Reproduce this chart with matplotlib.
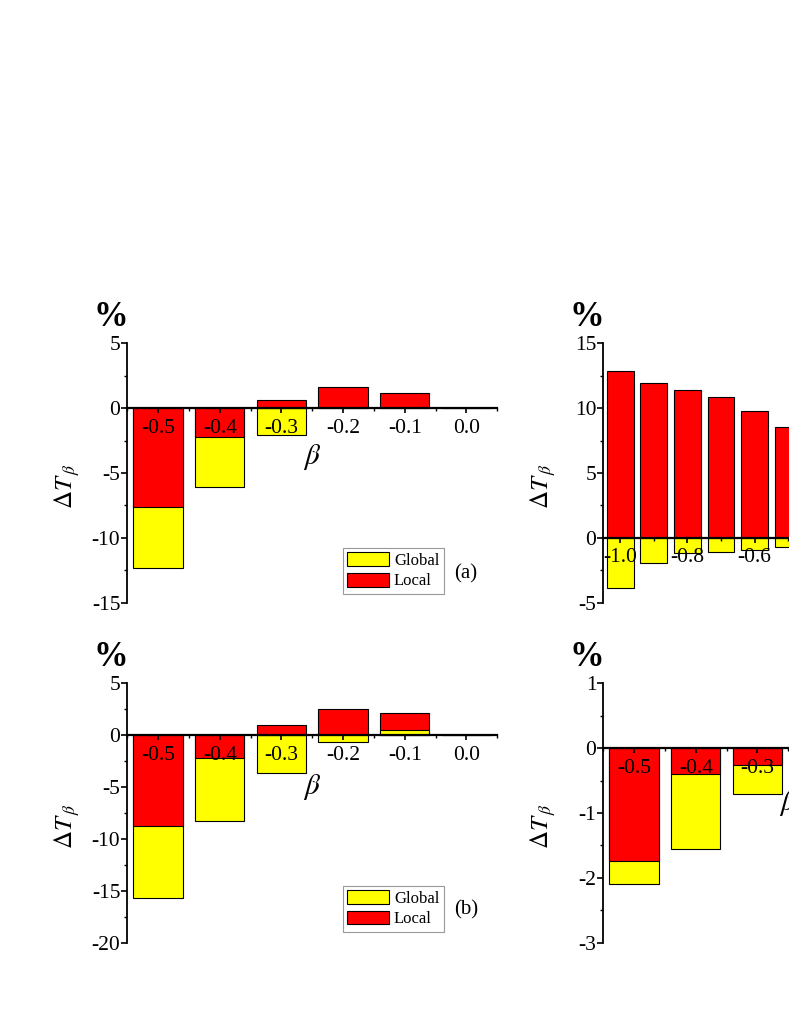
import numpy as np
import matplotlib
matplotlib.use("Agg")
from matplotlib import pyplot as plt
from matplotlib.ticker import MultipleLocator, FuncFormatter

plt.rcParams['font.family'] = ['Liberation Serif', 'DejaVu Serif']
plt.rcParams['mathtext.fontset'] = 'stix'
plt.rcParams['axes.unicode_minus'] = False

YELLOW = '#ffff00'
RED = '#ff0000'

# panel (a)
beta_a = [-0.5, -0.4, -0.3, -0.2, -0.1, 0.0]
global_a = [-12.3, -6.1, -2.05, 0.0, 0.0, 0.0]
local_a = [-7.65, -2.25, 0.64, 1.62, 1.15, 0.0]

# panel (b)
beta_b = [-0.5, -0.4, -0.3, -0.2, -0.1, 0.0]
global_b = [-15.7, -8.3, -3.6, -0.68, 0.52, 0.0]
local_b = [-8.77, -2.2, 0.97, 2.48, 2.16, 0.0]

# top right panel (only the visible part)
beta_c = [-1.0, -0.9, -0.8, -0.7, -0.6, -0.5]
global_c = [-3.85, -1.95, -1.18, -1.08, -0.95, -0.69]
local_c = [12.9, 11.94, 11.43, 10.87, 9.79, 8.58]

# bottom right panel (only the visible part)
beta_d = [-0.5, -0.4, -0.3]
global_d = [-2.10, -1.55, -0.71]
local_d = [-1.74, -0.40, -0.26]


def tick_fmt(v, pos):
    v = round(v, 1)
    if v == 0:
        return '0.0'
    return '%.1f' % v


def panel(ax, beta, glob, loc, ylim, ymaj, xlim, xmaj, beta_pos, legend=None, tag=None):
    gb = ax.bar(beta, glob, width=0.08, color=YELLOW, edgecolor='black', linewidth=0.8, label='Global')
    lb = ax.bar(beta, loc, width=0.08, color=RED, edgecolor='black', linewidth=0.8, label='Local')
    # the bar with the smaller magnitude is drawn on top
    for pg, pl, g, l in zip(gb.patches, lb.patches, glob, loc):
        if abs(g) < abs(l):
            pg.set_zorder(1.5)
            pl.set_zorder(1.0)
        else:
            pg.set_zorder(1.0)
            pl.set_zorder(1.5)

    ax.set_xlim(*xlim)
    ax.set_ylim(*ylim)
    for s in ['top', 'right']:
        ax.spines[s].set_visible(False)
    ax.spines['bottom'].set_position(('data', 0))
    ax.spines['bottom'].set_linewidth(1.6)
    ax.spines['left'].set_linewidth(1.3)

    ax.xaxis.set_major_locator(MultipleLocator(xmaj))
    ax.xaxis.set_minor_locator(MultipleLocator(xmaj / 2))
    ax.xaxis.set_major_formatter(FuncFormatter(tick_fmt))
    ax.yaxis.set_major_locator(MultipleLocator(ymaj))
    ax.yaxis.set_minor_locator(MultipleLocator(ymaj / 2))
    ax.tick_params(axis='x', which='major', direction='out', length=3.5, width=1.2, pad=4, labelsize=15.5)
    ax.tick_params(axis='x', which='minor', direction='out', length=2.5, width=1.0)
    ax.tick_params(axis='y', which='major', direction='out', length=4, width=1.2, pad=1, labelsize=15.5)
    ax.tick_params(axis='y', which='minor', direction='out', length=2.5, width=1.0)

    ax.text(beta_pos[0], beta_pos[1], r'$\beta$', fontsize=21, ha='center', va='center')
    ax.text(-0.163, 0.45, r'$\mathit{\Delta T}_{\,\beta}$', fontsize=18, rotation=90,
            ha='center', va='center', transform=ax.transAxes)
    ax.text(-0.045, 1.10, '%', fontsize=25, fontweight='bold', ha='center', va='center',
            transform=ax.transAxes)

    if legend is not None:
        leg = ax.legend(handles=[gb, lb], loc='upper left', bbox_to_anchor=legend, borderaxespad=0,
                        fontsize=12, fancybox=False, edgecolor='#999999', framealpha=1,
                        handlelength=2.5, handleheight=0.9, handletextpad=0.3,
                        labelspacing=0.22, borderpad=0.28)
        leg.get_frame().set_linewidth(0.8)
    if tag is not None:
        ax.text(tag[1][0], tag[1][1], tag[0], fontsize=15, ha='center', va='center', transform=ax.transAxes)


fig = plt.figure(figsize=(7.89, 10.21), dpi=100)
W = 0.469
H = 0.254
ax_a = fig.add_axes([0.1613, 0.4097, W, H])
ax_b = fig.add_axes([0.1613, 0.0767, W, H])
ax_c = fig.add_axes([0.7646, 0.4097, W, H])
ax_d = fig.add_axes([0.7646, 0.0767, W, H])

panel(ax_a, beta_a, global_a, local_a, (-15, 5), 5, (-0.55, 0.05), 0.1, (-0.25, -3.8),
      legend=(0.582, 0.212), tag=('(a)', (0.915, 0.113)))
panel(ax_b, beta_b, global_b, local_b, (-20, 5), 5, (-0.55, 0.05), 0.1, (-0.25, -5.0),
      legend=(0.582, 0.220), tag=('(b)', (0.917, 0.126)))
panel(ax_c, beta_c, global_c, local_c, (-5, 15), 5, (-1.05, 0.05), 0.2, (-0.40, -4.2))
panel(ax_d, beta_d, global_d, local_d, (-3, 1), 1, (-0.55, 0.05), 0.1, (-0.25, -0.85))

fig.savefig('out.png', dpi=100)
